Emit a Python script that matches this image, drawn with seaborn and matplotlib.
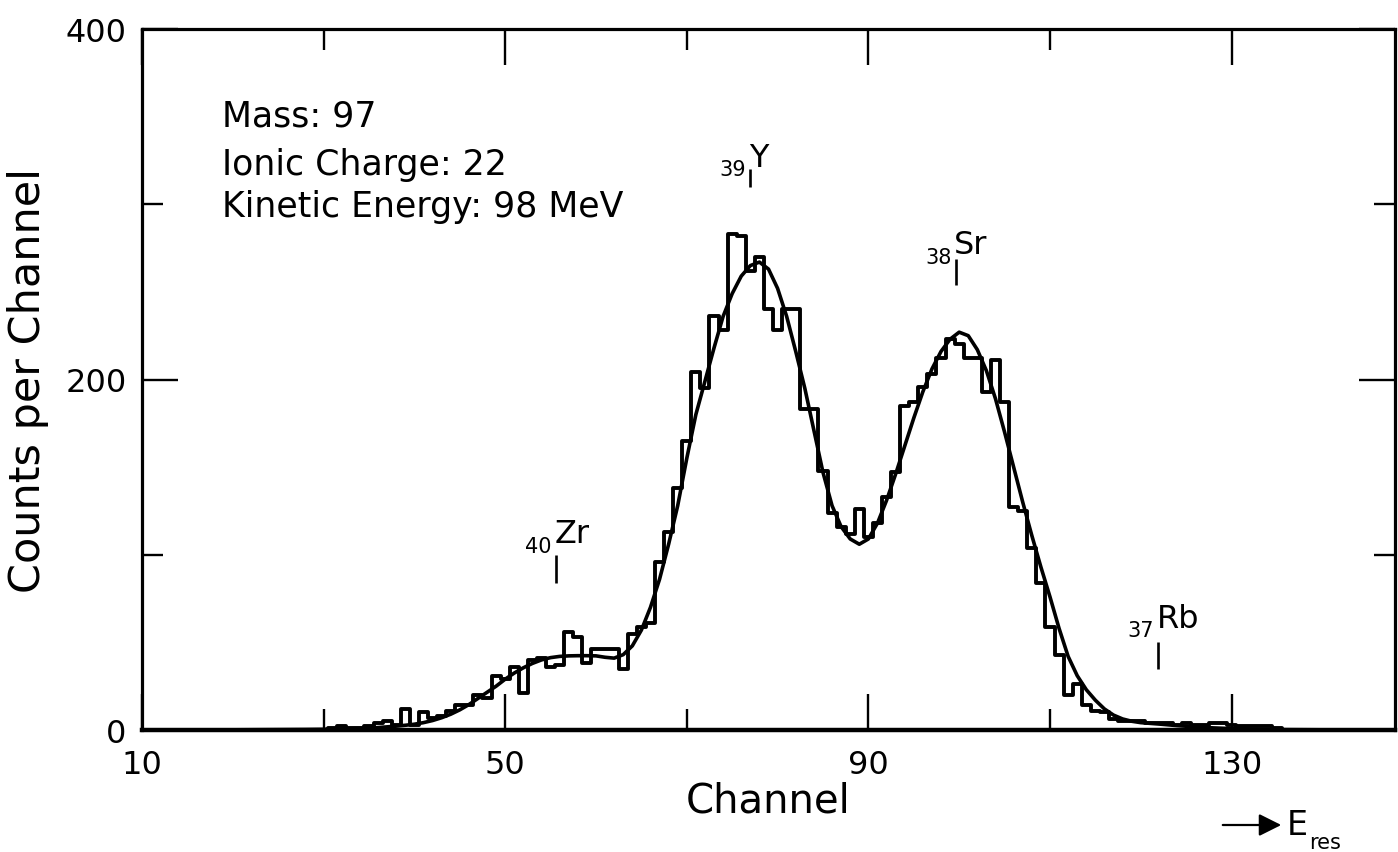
import numpy as np
import pandas as pd
import matplotlib
matplotlib.use("Agg")
import matplotlib.pyplot as plt
import seaborn as sns

# ---------------- data ----------------
hist_channels = list(range(30, 136))
hist_counts = [0, 1, 2, 1, 1, 2, 4, 5, 3, 12,
               3, 10, 7, 8, 11, 14, 14, 20, 18, 31,
               29, 36, 21, 40, 41, 36, 37, 56, 53, 38,
               46, 46, 46, 35, 55, 59, 61, 96, 113, 138,
               165, 204, 195, 236, 228, 283, 282, 262, 270, 240,
               228, 240, 240, 183, 183, 148, 124, 116, 112, 126,
               110, 118, 133, 147, 185, 187, 196, 203, 212, 223,
               220, 212, 212, 193, 211, 187, 127, 125, 104, 84,
               59, 43, 20, 26, 14, 11, 10, 6, 5, 5,
               5, 4, 4, 4, 3, 4, 3, 3, 4, 4,
               3, 2, 2, 2, 2, 1]

fit_channels = [10, 20, 28, 30, 32, 34] + list(range(35, 121)) + [122, 124, 126, 128, 130, 133, 136, 140, 148]
fit_counts = [0, 0.1, 0.3, 0.4, 0.6, 0.9,
              1.1, 1.4, 1.8, 2.2, 2.7, 3.3, 4.2, 5.4, 7.0, 9.0,
              11.5, 14.5, 18, 21.5, 25, 29, 32.5, 35.5, 38, 40,
              41.3, 42, 42.3, 42.4, 42.4, 42.3, 41.5, 41, 43, 48,
              57, 70, 86, 106, 128, 155, 180, 199, 218, 236,
              249, 259, 265, 267, 263, 252, 236, 216, 195, 171,
              147, 128, 116, 109, 106, 109, 118, 131, 146, 162,
              178, 193, 206, 216, 223, 227, 225, 217, 205, 189,
              170, 150, 130, 111, 93, 76, 58, 42, 31, 23,
              17, 12, 8.5, 6.3, 5.0, 4.2,
              3.4, 2.5, 1.8, 1.2, 0.8, 0.4, 0.2, 0.1, 0]

element_symbols = ["Zr", "Y", "Sr", "Rb"]
element_numbers = ["40", "39", "38", "37"]
element_channels = [55.6, 77.0, 99.6, 121.9]
marker_low = [84, 310, 254, 35]
marker_high = [100, 320, 269, 50]
label_counts = [107, 322, 272, 59]

info_lines = ["Mass: 97", "Ionic Charge: 22", "Kinetic Energy: 98 MeV"]
info_counts = [350.5, 323, 299]
info_channel = 18.8

x_major = [10, 50, 90, 130]
x_minor = [30, 70, 110]
y_major = [0, 200, 400]
y_minor = [100, 300]

# ---------------- figure ----------------
sns.set_theme(style="ticks")
plt.rcParams["font.family"] = ["DejaVu Sans"]
plt.rcParams["text.color"] = "black"
plt.rcParams["axes.labelcolor"] = "black"
plt.rcParams["xtick.color"] = "black"
plt.rcParams["ytick.color"] = "black"

W, H = 1398, 853
fig = plt.figure(figsize=(W / 100, H / 100), dpi=100)
ax = fig.add_axes([142 / W, 1 - 731 / H, (1395 - 142) / W, (731 - 30) / H])

hist_df = pd.DataFrame({"channel": hist_channels, "counts": hist_counts})
sns.histplot(data=hist_df, x="channel", weights="counts", discrete=True,
             element="step", fill=False, color="black", linewidth=2.8, ax=ax)

fit_df = pd.DataFrame({"channel": fit_channels, "counts": fit_counts})
sns.lineplot(data=fit_df, x="channel", y="counts", color="black",
             linewidth=2.6, ax=ax)

ax.set_xlim(10, 148)
ax.set_ylim(0, 400)

ax.set_xticks(x_major)
ax.set_xticks(x_minor, minor=True)
ax.set_yticks(y_major)
ax.set_yticks(y_minor, minor=True)
ax.set_xticklabels([str(v) for v in x_major])
ax.set_yticklabels([str(v) for v in y_major])

ax.tick_params(axis="both", which="major", direction="in", length=26, width=1.7,
               top=True, right=True, labelsize=23, colors="black")
ax.tick_params(axis="both", which="minor", direction="in", length=15, width=1.7,
               top=True, right=True, colors="black")
ax.tick_params(axis="x", which="major", pad=14)
ax.tick_params(axis="y", which="major", pad=11)

for sp in ax.spines.values():
    sp.set_visible(True)
    sp.set_linewidth(2.3)
    sp.set_color("black")
ax.spines["bottom"].set_linewidth(3.2)

ax.set_xlabel("Channel", fontsize=29, labelpad=0, color="black")
ax.set_ylabel("Counts per Channel", fontsize=31, labelpad=12, color="black")
ax.grid(False)

# info block
for line, yv in zip(info_lines, info_counts):
    ax.text(info_channel, yv, line, fontsize=25, ha="left", va="center", color="black")

# element markers and labels
ax.vlines(element_channels, marker_low, marker_high, color="black", linewidth=1.9)
for sym, num, ch, ly in zip(element_symbols, element_numbers, element_channels, label_counts):
    ax.annotate(sym, xy=(ch, ly), xytext=(-1, 0), textcoords="offset points",
                fontsize=23, ha="left", va="baseline", color="black")
    ax.annotate(num, xy=(ch, ly), xytext=(-3, -7), textcoords="offset points",
                fontsize=15, ha="right", va="baseline", color="black")

# E_res arrow
ax.annotate("", xy=(1284 / W, 1 - 826 / H), xytext=(1220 / W, 1 - 826 / H),
            xycoords="figure fraction", textcoords="figure fraction",
            arrowprops=dict(arrowstyle="-|>", color="black", lw=1.6, mutation_scale=34))
fig.text(1287 / W, 1 - 826 / H, "E", fontsize=24, ha="left", va="center", color="black")
fig.text(1309 / W, 1 - 843 / H, "res", fontsize=15, ha="left", va="center", color="black")

fig.savefig("out.png", dpi=100)
